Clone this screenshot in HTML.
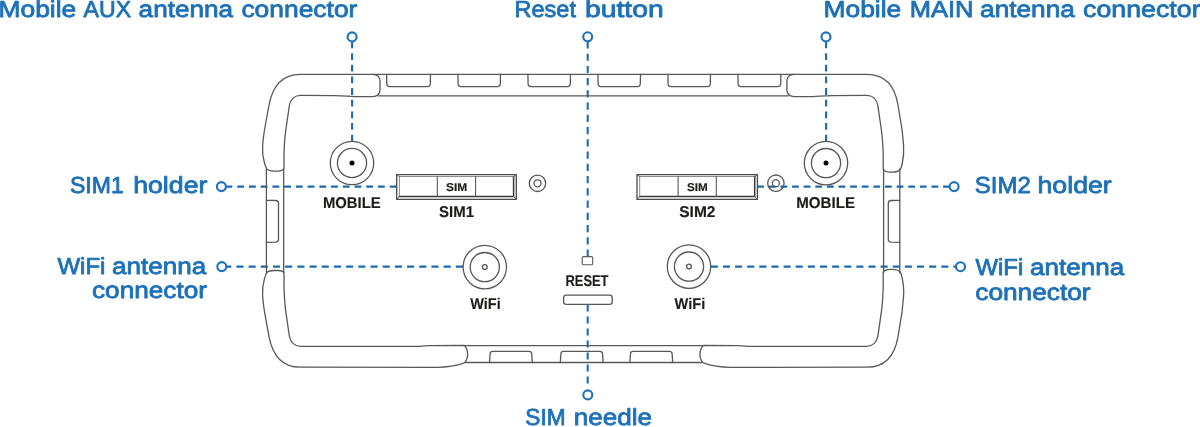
<!DOCTYPE html>
<html lang="en">
<head>
<meta charset="utf-8">
<title>Device front panel</title>
<style>
html,body{margin:0;padding:0;background:#fff;}
body{width:1200px;height:427px;overflow:hidden;}
svg{display:block;will-change:transform;}
.lbl text{font-family:"Liberation Sans",sans-serif;font-weight:normal;fill:#1d71b8;stroke:#1d71b8;stroke-width:0.8;stroke-linejoin:round;}
.blk text{font-family:"Liberation Sans",sans-serif;font-weight:bold;fill:#1d1d1b;stroke:#1d1d1b;stroke-linejoin:round;}
.ink{fill:none;stroke:#585858;stroke-width:1.3;stroke-linejoin:round;stroke-linecap:round;}
.dash{fill:none;stroke:#1a6bb0;stroke-width:2.1;}
.dash.h{stroke-width:2.2;}
.dot{fill:#fff;stroke:#1d71b8;stroke-width:2.1;}
</style>
</head>
<body>
<svg width="1200" height="427" viewBox="0 0 1200 427" text-rendering="geometricPrecision">
<rect width="1200" height="427" fill="#fff"/>

<g id="leaders">
<path class="dash" stroke-dasharray="6.8 4.85" d="M352.1 41.5 L352.1 141.5"/>
<path class="dash" stroke-dasharray="6.8 4.85" d="M826.1 41.5 L826.1 141.5"/>
<path class="dash" stroke-dasharray="7.14 5.1" d="M587.7 41.4 L587.7 256.5"/>
<path class="dash" stroke-dasharray="6.99 4.99" d="M587.7 304.6 L587.7 383.5"/>
<path class="dash h" stroke-dasharray="6.84 4.89" d="M225.5 186.7 L396.5 186.7"/>
<path class="dash h" stroke-dasharray="6.78 4.84" d="M757.2 186.7 L950.0 186.7"/>
<path class="dash h" stroke-dasharray="7.11 5.08" d="M224.2 266.6 L463.0 266.6"/>
<path class="dash h" stroke-dasharray="7.08 5.05" d="M710.8 266.7 L960.5 266.7"/>
<circle class="dot" cx="352.1" cy="36.9" r="4.5"/>
<circle class="dot" cx="587.7" cy="36.8" r="4.5"/>
<circle class="dot" cx="826.0" cy="36.9" r="4.5"/>
<circle class="dot" cx="221.4" cy="186.6" r="4.5"/>
<circle class="dot" cx="954.1" cy="186.6" r="4.5"/>
<circle class="dot" cx="221.8" cy="266.6" r="4.5"/>
<circle class="dot" cx="960.5" cy="266.7" r="4.5"/>
<circle class="dot" cx="587.8" cy="394.9" r="4.5"/>
</g>
<g id="case">
<path class="ink" d="M372.5 74.4 L300.0 74.4 C281.1 74.4 272.2 88.4 269.0 105 L264.5 130 C263.6 136 262.9 141 262.6 146 C262.2 152 263 158 264.6 163.5 C265.5 166.5 266.2 168 266.8 168.9 C268.5 170.7 271 171.1 274 171.1 L278.0 171.1 C281.0 171.1 283.4 170.4 284.0 168.2 L284.0 156 C284.0 150 284.4 144 285.0 137 L285.8 130 L289.3 105.8 C290.5 99 295.0 95.3 300.5 95.3 L335.0 95.6 C345.0 95.6 350.0 96.6 360.0 96.6 L372.5 96.6 C377.5 96.6 380.0 94 380.0 89.5 L380.0 81.5 C380.0 77 377.5 74.4 372.5 74.4 Z"/>
<path class="ink" d="M437.0 367.3 L300.0 367.2 C281.1 367.2 272.2 353.2 269.0 336.6 L264.5 311.6 C263.6 305.6 262.9 300.6 262.6 295.6 C262.2 289.6 263 283.6 264.6 278.1 C265.5 275.1 266.2 273.6 266.8 272.7 C268.5 270.9 271 270.5 274 270.5 L278.0 270.5 C281.0 270.5 283.4 271.2 284.0 273.4 L284.0 285.6 C284.0 291.6 284.4 297.6 285.0 304.6 L285.8 311.6 L289.3 335.8 C290.5 342.6 295.0 346.3 300.5 346.3 L420.0 346.3 C424.0 346.3 426.0 345.6 430.0 345.6 L464.3 345.5 C466.5 347.5 467.6 351 467.6 354.5 C467.6 357.5 467.0 360.3 464.3 362.9 C457.0 365.6 447.0 367.3 437.0 367.3 Z"/>
<g transform="translate(1166.2 0) scale(-1 1)">
<path class="ink" d="M371.8 74.4 L299.2 74.4 C279.5 74.4 271.0 88.4 268.2 105 L264.1 130 C263.6 136 262.9 141 262.6 146 C262.2 152 262.8 158 263.9 163 C264.5 166 265.2 168.2 265.9 169.5 C267.8 171.6 270.5 172.2 274 172.2 L276.0 172.2 C279.0 172.2 281.7 171.5 283.0 169.2 L283.0 156 C283.0 150 283.4 144 284.0 137 L284.8 130 L288.3 105.8 C289.5 99 294.0 95.3 299.5 95.3 L334.3 95.6 C344.3 95.6 349.3 96.6 359.3 96.6 L371.8 96.6 C376.8 96.6 379.3 94 379.3 89.5 L379.3 81.5 C379.3 77 376.8 74.4 371.8 74.4 Z"/>
<path class="ink" d="M435.6 367.3 L299.2 367.2 C279.5 367.2 271.0 353.2 268.2 336.6 L264.1 311.6 C263.6 305.6 262.9 300.6 262.6 295.6 C262.2 289.6 262.8 283.6 263.9 278.6 C264.5 275.6 265.2 273.4 265.9 272.1 C267.8 270.0 270.5 269.4 274 269.4 L276.0 269.4 C279.0 269.4 281.7 270.1 283.0 272.4 L283.0 285.6 C283.0 291.6 283.4 297.6 284.0 304.6 L284.8 311.6 L288.3 335.8 C289.5 342.6 294.0 346.3 299.5 346.3 L418.6 346.3 C422.6 346.3 424.6 345.6 428.6 345.6 L462.9 345.5 C465.1 347.5 466.2 351 466.2 354.5 C466.2 357.5 465.6 360.3 462.9 362.9 C455.6 365.6 445.6 367.3 435.6 367.3 Z"/>
</g>
<path class="ink" d="M266.4 169 L266.4 272.6 M283.7 169 L283.7 272.6"/>
<path class="ink" d="M266.4 200.3 L275.8 200.5 C277.8 200.6 278.4 201.5 278.5 202.9 L278.5 239.8 C278.4 241.3 277.8 242 275.8 242.1 L266.4 242.3"/>
<path class="ink" d="M899.8 169 L899.8 272.6 M883.6 169 L883.6 272.6"/>
<path class="ink" d="M899.8 200.3 L891 200.5 C889 200.6 888.4 201.5 888.3 202.9 L888.3 239.8 C888.4 241.3 889 242 891 242.1 L899.8 242.3"/>
<path class="ink" d="M372.5 74.4 L794.4 74.4 M378.5 95.9 L788.4 95.9"/>
<path class="ink" d="M386.6 74.4 L386.8 84 C387.0 85.9 387.8 86.7 389.6 86.7 L427.5 86.7 C429.3 86.7 430.1 85.9 430.3 84 L430.5 74.4"/>
<path class="ink" d="M457.9 74.4 L458.1 84 C458.3 85.9 459.1 86.7 460.9 86.7 L497.5 86.7 C499.3 86.7 500.1 85.9 500.3 84 L500.5 74.4"/>
<path class="ink" d="M527.9 74.4 L528.1 84 C528.3 85.9 529.1 86.7 530.9 86.7 L567.5 86.7 C569.3 86.7 570.1 85.9 570.3 84 L570.5 74.4"/>
<path class="ink" d="M597.9 74.4 L598.1 84 C598.3 85.9 599.1 86.7 600.9 86.7 L637.5 86.7 C639.3 86.7 640.1 85.9 640.3 84 L640.5 74.4"/>
<path class="ink" d="M667.9 74.4 L668.1 84 C668.3 85.9 669.1 86.7 670.9 86.7 L707.5 86.7 C709.3 86.7 710.1 85.9 710.3 84 L710.5 74.4"/>
<path class="ink" d="M737.9 74.4 L738.1 84 C738.3 85.9 739.1 86.7 740.9 86.7 L777.9 86.7 C779.7 86.7 780.5 85.9 780.7 84 L780.9 74.4"/>
<path class="ink" d="M464.3 345.6 L703.3 345.6 M465.5 362.5 L702.1 362.5"/>
<path class="ink" d="M489.5 362.6 L490.1 353.6 C490.3 352 491.1 351.3 492.5 351.3 L529.3 351.3 C530.7 351.3 531.5 352 531.7 353.6 L532.3 362.6"/>
<path class="ink" d="M560.3 362.6 L560.9 353.6 C561.1 352 561.9 351.3 563.3 351.3 L600.1 351.3 C601.5 351.3 602.3 352 602.5 353.6 L603.1 362.6"/>
<path class="ink" d="M629.9 362.6 L630.5 353.6 C630.7 352 631.5 351.3 632.9 351.3 L669.7 351.3 C671.1 351.3 671.9 352 672.1 353.6 L672.7 362.6"/>
</g>
<g id="parts">
<circle class="ink" cx="352" cy="163" r="21.7"/><circle class="ink" cx="352" cy="163" r="14.6"/><circle cx="352" cy="163" r="2.5" fill="#000"/>
<circle class="ink" cx="826" cy="163.1" r="21.7"/><circle class="ink" cx="826" cy="163.1" r="14.6"/><circle cx="826" cy="163.1" r="2.5" fill="#000"/>
<circle class="ink" cx="484.8" cy="267.1" r="21.7"/><circle class="ink" cx="484.8" cy="267.1" r="14.6"/><circle class="ink" cx="484.8" cy="267.1" r="2.4"/>
<circle class="ink" cx="689" cy="266.6" r="21.7"/><circle class="ink" cx="689" cy="266.6" r="14.6"/><circle class="ink" cx="689" cy="266.6" r="2.4"/>
<rect class="ink" x="396.7" y="174.6" width="119.60" height="24.70" style="stroke:#4a4a4a"/><path class="ink" style="stroke:#8c8c8c;stroke-width:1" d="M399.40 196.4 L399.40 176.5 L513.60 176.5"/><path class="ink" style="stroke:#3a3a3a;stroke-width:1.5" d="M399.40 196.4 L513.60 196.4 L513.60 176.5"/><path class="ink" style="stroke-width:1" d="M396.7 174.6 L399.40 176.5 M516.3 174.6 L513.60 176.5 M396.7 199.3 L399.40 196.4 M516.3 199.3 L513.60 196.4"/><path class="ink" style="stroke-width:1.1" d="M437.3 176.5 L437.3 196.4 M475.6 176.5 L475.6 196.4"/>
<rect class="ink" x="637.0" y="174.6" width="120.40" height="24.70" style="stroke:#4a4a4a"/><path class="ink" style="stroke:#8c8c8c;stroke-width:1" d="M639.70 196.4 L639.70 176.5 L754.70 176.5"/><path class="ink" style="stroke:#3a3a3a;stroke-width:1.5" d="M639.70 196.4 L754.70 196.4 L754.70 176.5"/><path class="ink" style="stroke-width:1" d="M637.0 174.6 L639.70 176.5 M757.4 174.6 L754.70 176.5 M637.0 199.3 L639.70 196.4 M757.4 199.3 L754.70 196.4"/><path class="ink" style="stroke-width:1.1" d="M678.1 176.5 L678.1 196.4 M716.3 176.5 L716.3 196.4"/>
<circle class="ink" cx="537.5" cy="183.3" r="8.2"/><circle class="ink" cx="537.5" cy="183.3" r="3.5"/>
<circle class="ink" cx="775.9" cy="183.2" r="8.2"/><circle class="ink" cx="775.9" cy="183.2" r="3.5"/>
<rect class="ink" x="582.2" y="256.6" width="10.5" height="8.2" rx="1.4" style="stroke-width:1.1"/>
<rect class="ink" x="563.6" y="295.1" width="48.6" height="9.2" rx="2.6" style="stroke-width:1.3"/>
</g>
<g class="blk" font-size="15.6" stroke-width="0.15">
<text y="208.03"><tspan x="322.95" textLength="57.75" lengthAdjust="spacingAndGlyphs">MOBILE</tspan></text>
<text y="208.03"><tspan x="796.25" textLength="58.75" lengthAdjust="spacingAndGlyphs">MOBILE</tspan></text>
<text y="217.38"><tspan x="439.00" textLength="35.00" lengthAdjust="spacingAndGlyphs">SIM1</tspan></text>
<text y="217.38"><tspan x="679.25" textLength="36.25" lengthAdjust="spacingAndGlyphs">SIM2</tspan></text>
<text y="309.12"><tspan x="470.25" textLength="30.50" lengthAdjust="spacingAndGlyphs">WiFi</tspan></text>
<text y="309.23"><tspan x="674.50" textLength="30.75" lengthAdjust="spacingAndGlyphs">WiFi</tspan></text>
<text y="286.38"><tspan x="565.50" textLength="43.00" lengthAdjust="spacingAndGlyphs">RESET</tspan></text>
</g>
<g class="blk" font-size="11.3" stroke-width="0.15">
<text y="190.53"><tspan x="446.00" textLength="21.25" lengthAdjust="spacingAndGlyphs">SIM</tspan></text>
<text y="190.53"><tspan x="687.00" textLength="20.75" lengthAdjust="spacingAndGlyphs">SIM</tspan></text>
</g>
<g class="lbl" font-size="23.2">
<text y="17.40"><tspan x="-1.50" textLength="77.75" lengthAdjust="spacingAndGlyphs">Mobile</tspan> <tspan x="83.60" textLength="47.50" lengthAdjust="spacingAndGlyphs">AUX</tspan> <tspan x="138.60" textLength="94.50" lengthAdjust="spacingAndGlyphs">antenna</tspan> <tspan x="241.40" textLength="116.00" lengthAdjust="spacingAndGlyphs">connector</tspan></text>
<text y="17.40"><tspan x="514.50" textLength="61.50" lengthAdjust="spacingAndGlyphs">Reset</tspan> <tspan x="585.00" textLength="78.75" lengthAdjust="spacingAndGlyphs">button</tspan></text>
<text y="17.40"><tspan x="823.50" textLength="77.75" lengthAdjust="spacingAndGlyphs">Mobile</tspan> <tspan x="909.75" textLength="63.75" lengthAdjust="spacingAndGlyphs">MAIN</tspan> <tspan x="980.10" textLength="94.75" lengthAdjust="spacingAndGlyphs">antenna</tspan> <tspan x="1083.10" textLength="117.50" lengthAdjust="spacingAndGlyphs">connector</tspan></text>
<text y="192.90"><tspan x="70.00" textLength="53.75" lengthAdjust="spacingAndGlyphs">SIM1</tspan> <tspan x="133.15" textLength="74.25" lengthAdjust="spacingAndGlyphs">holder</tspan></text>
<text y="192.90"><tspan x="974.75" textLength="56.00" lengthAdjust="spacingAndGlyphs">SIM2</tspan> <tspan x="1037.50" textLength="74.25" lengthAdjust="spacingAndGlyphs">holder</tspan></text>
<text y="273.50"><tspan x="57.40" textLength="48.00" lengthAdjust="spacingAndGlyphs">WiFi</tspan> <tspan x="111.90" textLength="94.25" lengthAdjust="spacingAndGlyphs">antenna</tspan></text>
<text y="298.20"><tspan x="92.00" textLength="115.00" lengthAdjust="spacingAndGlyphs">connector</tspan></text>
<text y="275.20"><tspan x="975.50" textLength="47.75" lengthAdjust="spacingAndGlyphs">WiFi</tspan> <tspan x="1030.00" textLength="94.25" lengthAdjust="spacingAndGlyphs">antenna</tspan></text>
<text y="299.50"><tspan x="975.30" textLength="115.25" lengthAdjust="spacingAndGlyphs">connector</tspan></text>
<text y="424.70"><tspan x="525.30" textLength="40.25" lengthAdjust="spacingAndGlyphs">SIM</tspan> <tspan x="573.75" textLength="78.25" lengthAdjust="spacingAndGlyphs">needle</tspan></text>
</g>
</svg>
</body>
</html>
